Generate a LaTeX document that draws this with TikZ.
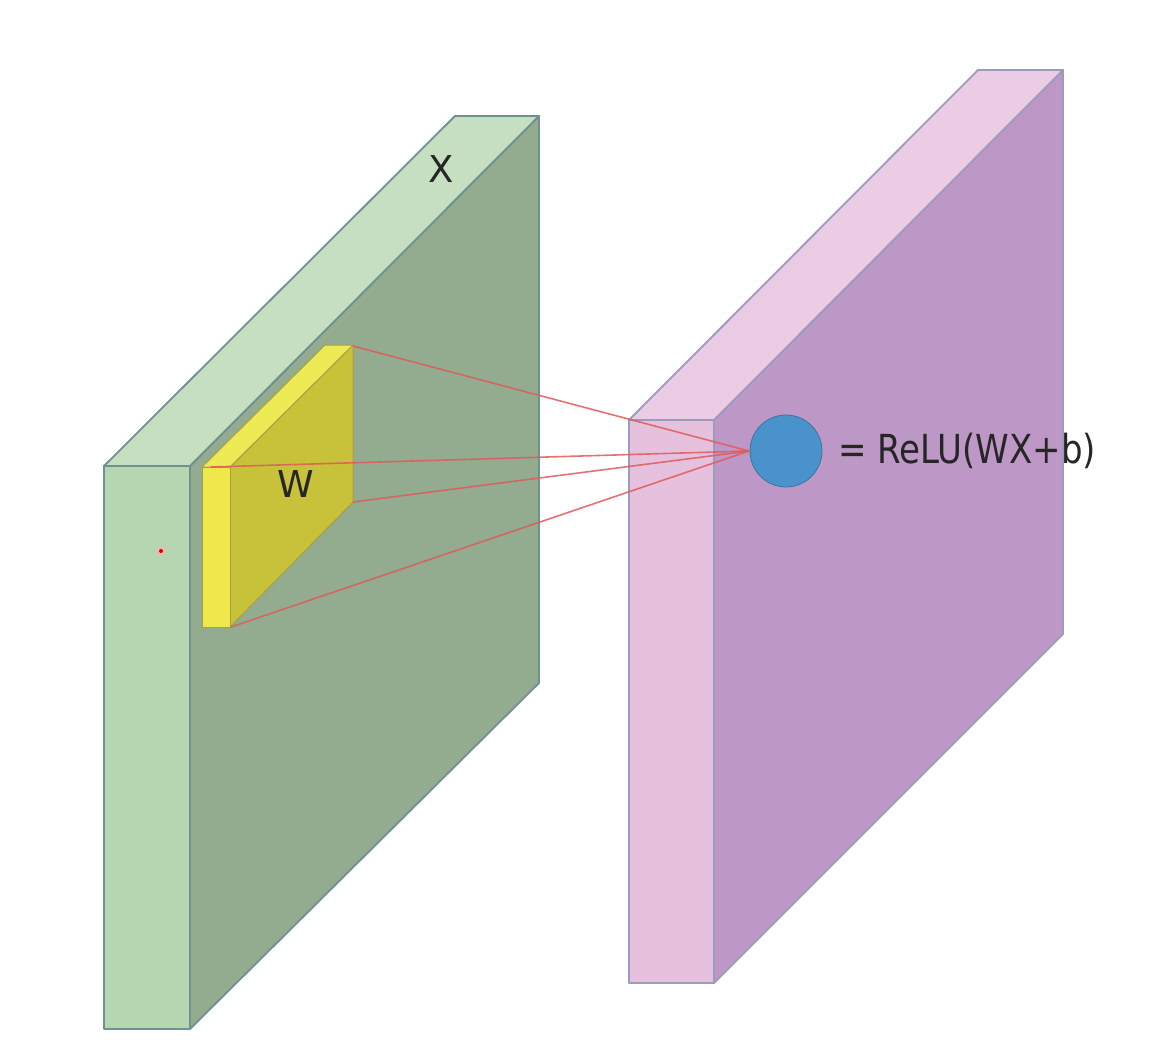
\documentclass[tikz,border=0pt]{standalone}
\usepackage{fontspec}
\setmainfont{DejaVu Sans}
\usepackage{graphicx}
\begin{document}
\begin{tikzpicture}[x=1pt,y=-1pt,line join=round,
  gedge/.style={draw=gE,line width=1.8pt},
  pedge/.style={draw=pE,line width=1.8pt},
  yedge/.style={draw=yE,line width=1pt},
  ray/.style={draw=rayC,line width=1.6pt,opacity=0.85},
  lbl/.style={font=\fontsize{37}{37}\selectfont,text=black!85,inner sep=0pt}]
\definecolor{gFront}{HTML}{B5D6B0}
\definecolor{gTop}{HTML}{C5DFC0}
\definecolor{gSide}{HTML}{93AB8F}
\definecolor{gE}{HTML}{6F9191}
\definecolor{pFront}{HTML}{E6C1DE}
\definecolor{pTop}{HTML}{ECCBE4}
\definecolor{pSide}{HTML}{BD98C6}
\definecolor{pE}{HTML}{9A9CBC}
\definecolor{yFront}{HTML}{EFE84A}
\definecolor{yTop}{HTML}{EEEA55}
\definecolor{ySide}{HTML}{C8C23A}
\definecolor{yE}{HTML}{A8A040}
\definecolor{rayC}{HTML}{E05A5A}
\definecolor{blueC}{HTML}{4A92CB}
\useasboundingbox (0,0) rectangle (1150,1043);
\fill[white] (0,0) rectangle (1150,1043);
% ---- green block (X) ----
\filldraw[fill=gSide,gedge] (190,466) -- (539,116) -- (539,683) -- (190,1029) -- cycle;
\filldraw[fill=gTop,gedge] (104,466) -- (455,116) -- (539,116) -- (190,466) -- cycle;
\filldraw[fill=gFront,gedge] (104,466) rectangle (190,1029);
\node[lbl] (X) at (441,169) {X};
% red dot
\fill[red!30] (161,551) circle (4);
\fill[red!85!black] (161,551) circle (2);
% ---- yellow block (W) ----
\filldraw[fill=ySide,yedge] (230,467) -- (353,345) -- (353,502) -- (230,627) -- cycle;
\filldraw[fill=yTop,yedge] (202,467) -- (325,345) -- (353,345) -- (230,467) -- cycle;
\filldraw[fill=yFront,yedge] (202,467) rectangle (230,627);
\node[lbl] (W) at (296,484) {W};
\coordinate (wA) at (353,346);
\coordinate (wB) at (211,467);
\coordinate (wC) at (353,502);
\coordinate (wD) at (231,627);
% ---- pink block ----
\filldraw[fill=pSide,pedge] (714,420) -- (1063,70) -- (1063,634) -- (714,983) -- cycle;
\filldraw[fill=pTop,pedge] (629,420) -- (978,70) -- (1063,70) -- (714,420) -- cycle;
\filldraw[fill=pFront,pedge] (629,420) rectangle (714,983);
% ---- rays ----
\coordinate (tip) at (749,451);
\foreach \p in {wA,wB,wC,wD} \draw[ray] (\p) -- (tip);
% ---- neuron ----
\node[circle,fill=blueC,draw=blueC!80!black,line width=0.8pt,minimum size=72pt,inner sep=0pt] (n) at (786,451) {};
\node[anchor=west,inner sep=0pt,text=black!85] (eq) at (838,451) {\scalebox{0.85}[1]{\fontsize{40}{40}\selectfont = ReLU(WX+b)}};
\end{tikzpicture}
\end{document}
